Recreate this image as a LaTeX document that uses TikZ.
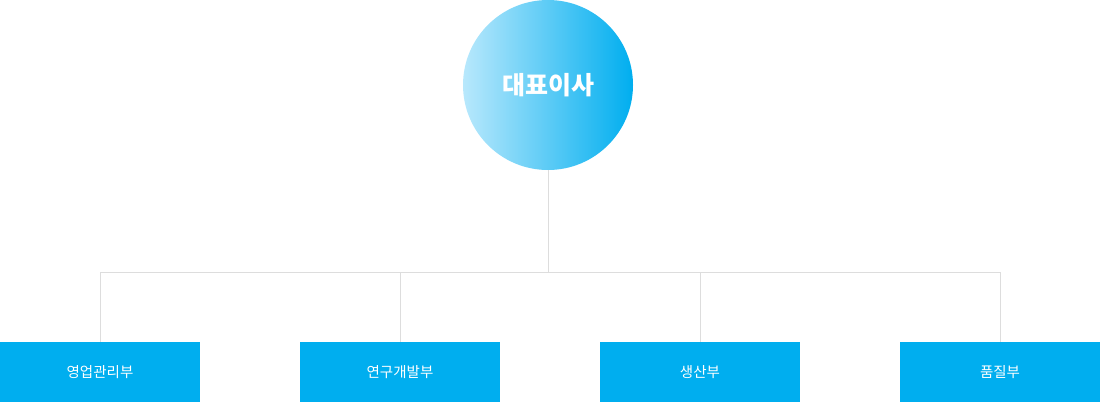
\documentclass[tikz,border=0pt]{standalone}
\usepackage{fontspec}
\newfontfamily\kr{Noto Sans CJK KR}
\usetikzlibrary{positioning}
\definecolor{deptblue}{RGB}{0,174,239}
\definecolor{ceolight}{RGB}{184,232,252}
\definecolor{linegray}{RGB}{221,221,221}

\begin{document}
\begin{tikzpicture}[x=1pt,y=-1pt,
  ceo/.style={circle,minimum size=170pt,inner sep=0pt,left color=ceolight,right color=deptblue,text=white,font=\kr\bfseries\fontsize{25}{29}\selectfont},
  dept/.style={rectangle,fill=deptblue,minimum width=200pt,minimum height=60pt,inner sep=0pt,text=white,font=\kr\fontsize{14.5}{17}\selectfont},
  link/.style={draw=linegray,line width=1pt}]
  \useasboundingbox (0,0) rectangle (1100,402);
  \node[ceo] (CEO) at (548,85) {대표이사};
  \coordinate (J) at (548,272);

  \node[dept] (D1) at (100,372) {영업관리부};
  \node[dept] (D2) at (400,372) {연구개발부};
  \node[dept] (D3) at (700,372) {생산부};
  \node[dept] (D4) at (1000,372) {품질부};

  \draw[link] (CEO.south) -- (J);
  \draw[link] (D1.north) |- (D4.north |- J) -- (D4.north);
  \foreach \d in {D2,D3}{
    \draw[link] (\d.north) -- (\d.north |- J);
  }
\end{tikzpicture}
\end{document}
